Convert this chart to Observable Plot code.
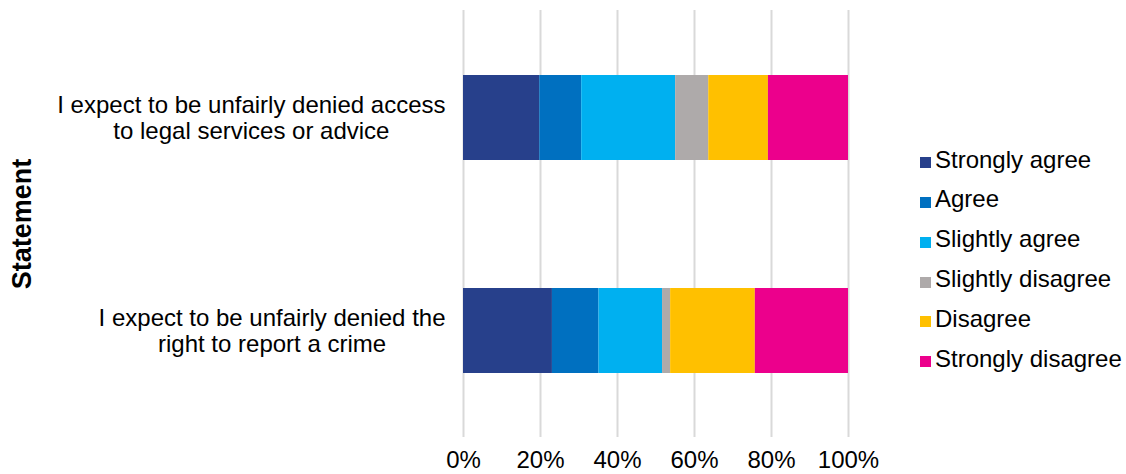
<!DOCTYPE html>
<html>
<head>
<meta charset="utf-8">
<script src="https://cdn.jsdelivr.net/npm/d3@7"></script>
<script src="https://cdn.jsdelivr.net/npm/@observablehq/plot@0.6"></script>
<style>
  html, body { margin: 0; padding: 0; background: #fff; }
  #wrap { position: relative; width: 1126px; height: 474px; font-family: "Liberation Sans", Arial, Helvetica, sans-serif; }
  #legend { position: absolute; left: 920px; top: 147.7px; }
  .row { display: flex; align-items: flex-start; height: 39.8px; line-height: 24px; font-size: 24px; color: #000; white-space: nowrap; }
  .sw { width: 11px; height: 11px; margin-top: 9.5px; margin-right: 4px; flex: none; }
</style>
</head>
<body>
<div id="wrap"></div>
<script>
const statements = [
  "I expect to be unfairly denied access\nto legal services or advice",
  "I expect to be unfairly denied the\nright to report a crime"
];
const categories = ["Strongly agree", "Agree", "Slightly agree", "Slightly disagree", "Disagree", "Strongly disagree"];
const colors = ["#27408B", "#0070C0", "#00B0F0", "#AEAAAA", "#FFC000", "#EC008C"];
const stronglyAgree    = [19.8, 23.1];
const agree            = [10.9, 12.1];
const slightlyAgree    = [24.4, 16.5];
const slightlyDisagree = [8.6, 2.1];
const disagree         = [15.5, 22.0];
const stronglyDisagree = [20.8, 24.2];
const xTicks = [0, 20, 40, 60, 80, 100];

const series = [stronglyAgree, agree, slightlyAgree, slightlyDisagree, disagree, stronglyDisagree];
const data = [];
statements.forEach((s, i) => {
  categories.forEach((c, j) => data.push({statement: s, category: c, value: series[j][i]}));
});

const font = "Liberation Sans, Arial, Helvetica, sans-serif";
const ctx = document.createElement("canvas").getContext("2d");
ctx.font = "24px " + font;
function halfWidth(s) {
  return Math.max(...s.split("\n").map(l => ctx.measureText(l).width)) / 2;
}

const labelMarks = statements.map(s =>
  Plot.text([s], {
    y: d => d, text: d => d, frameAnchor: "left", textAnchor: "middle",
    lineHeight: 1.06, fontSize: 24, fill: "#000", dx: -(18 + halfWidth(s))
  })
);

const chart = Plot.plot({
  width: 900,
  height: 474,
  marginLeft: 463,
  marginRight: 52,
  marginTop: 10,
  marginBottom: 37,
  style: {fontFamily: font, fontSize: "24px", color: "#000", background: "#fff", overflow: "visible"},
  x: {domain: [0, 100], ticks: xTicks, tickFormat: d => d + "%", tickSize: 0, tickPadding: 13, label: null},
  y: {domain: statements, paddingInner: 0.603, paddingOuter: 0.3, axis: null},
  color: {domain: categories, range: colors},
  marks: [
    Plot.ruleX(xTicks, {stroke: "#d9d9d9", strokeWidth: 2}),
    Plot.barX(data, Plot.stackX({x: "value", y: "statement", fill: "category", order: categories})),
    ...labelMarks,
    Plot.text(["Statement"], {frameAnchor: "left", textAnchor: "middle", lineAnchor: "middle", rotate: -90, dx: -441, fontSize: 27, fontWeight: "bold", fill: "#000"})
  ]
});

const wrap = document.getElementById("wrap");
wrap.appendChild(chart);
const legend = document.createElement("div");
legend.id = "legend";
categories.forEach((c, j) => {
  const row = document.createElement("div");
  row.className = "row";
  const sw = document.createElement("div");
  sw.className = "sw";
  sw.style.background = colors[j];
  const t = document.createElement("span");
  t.textContent = c;
  row.appendChild(sw);
  row.appendChild(t);
  legend.appendChild(row);
});
wrap.appendChild(legend);
</script>
</body>
</html>
